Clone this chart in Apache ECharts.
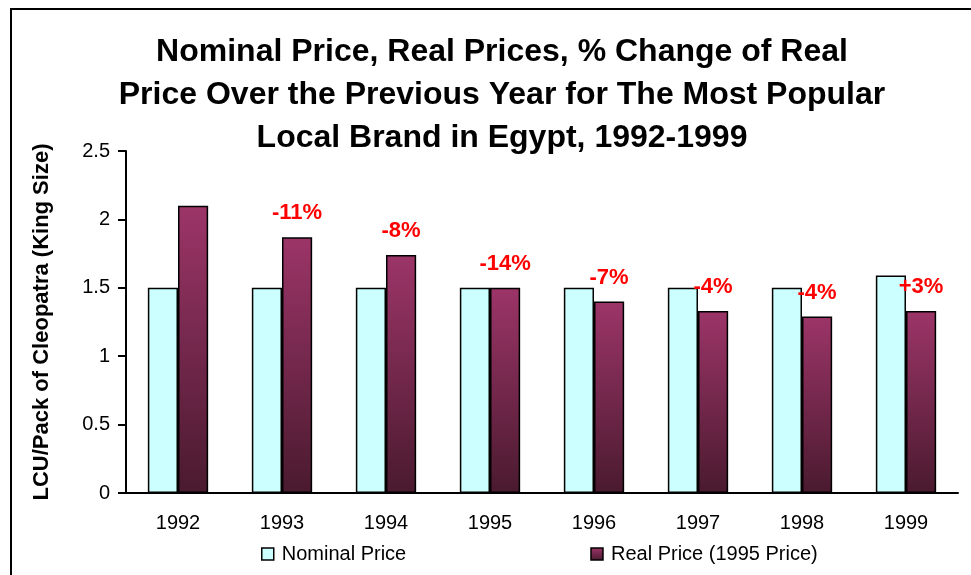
<!DOCTYPE html>
<html><head><meta charset="utf-8">
<script src="https://cdn.jsdelivr.net/npm/echarts@6/dist/echarts.min.js"></script>
<style>html,body{margin:0;padding:0;background:#fff}#c{width:971px;height:575px}</style>
</head><body><div id="c"></div>
<script>
const years = ['1992','1993','1994','1995','1996','1997','1998','1999'];
const nominalPrice = [1.5, 1.5, 1.5, 1.5, 1.5, 1.5, 1.5, 1.59];
const realPrice = [2.1, 1.87, 1.74, 1.5, 1.4, 1.33, 1.29, 1.33];
const pctChange = ['', '-11%', '-8%', '-14%', '-7%', '-4%', '-4%', '+3%'];
const titleLines = 'Nominal Price, Real Prices, % Change of Real\nPrice Over the Previous Year for The Most Popular\nLocal Brand in Egypt, 1992-1999';

const chart = echarts.init(document.getElementById('c'), null, {renderer:'canvas'});
const F = 'Liberation Sans, Arial, sans-serif';
chart.setOption({
  animation: false,
  textStyle: {fontFamily: F},
  graphic: [{type:'rect', shape:{x:11,y:9,width:1200,height:1200}, style:{fill:'none', stroke:'#000', lineWidth:2}, silent:true}],
  title: {text: titleLines, left: 497, textAlign:'center', top: 26,
    textStyle:{fontFamily:F, fontSize:32, fontWeight:'bold', color:'#000', lineHeight:43}},
  legend: {bottom: 6, left: 256, itemWidth: 12, itemHeight: 12, itemGap: 184, icon:'rect',
    textStyle:{fontFamily:F, fontSize:20, color:'#000', padding:[0,0,0,3]},
    itemStyle:{borderColor:'#000', borderWidth:1.5},
    data: ['Nominal Price','Real Price (1995 Price)']},
  grid: {left:126, right:13, top:151, bottom:82},
  xAxis: {type:'category', data: years,
    axisLine:{lineStyle:{color:'#000', width:2}},
    axisTick:{length:6, lineStyle:{color:'#000', width:2}},
    axisLabel:{color:'#000', fontSize:20, margin:20, fontFamily:F}},
  yAxis: {type:'value', min:0, max:2.5, interval:0.5,
    name:'LCU/Pack of Cleopatra (King Size)', nameLocation:'middle', nameGap:73, nameRotate:90,
    nameTextStyle:{fontFamily:F, fontSize:22, fontWeight:'bold', color:'#000'},
    axisLine:{show:true, lineStyle:{color:'#000', width:2}},
    axisTick:{show:true, length:8, lineStyle:{color:'#000', width:2}},
    splitLine:{show:false},
    axisLabel:{color:'#000', fontSize:20, margin:16, fontFamily:F}},
  series: [
    {name:'Nominal Price', type:'bar', data: nominalPrice, barGap:'0%', barCategoryGap:'42%',
      itemStyle:{color:'#ccffff', borderColor:'#000', borderWidth:1.5}},
    {name:'Real Price (1995 Price)', type:'bar', data: realPrice,
      itemStyle:{color: new echarts.graphic.LinearGradient(0,0,0,1,[{offset:0,color:'#9c3568'},{offset:1,color:'#4a1a2f'}], false),
        borderColor:'#000', borderWidth:1.5},
      label:{show:true, position:'top', distance:13, color:'#ff0000', fontSize:22, fontWeight:'bold', fontFamily:F,
        formatter: p => pctChange[p.dataIndex]}}
  ]
});
</script></body></html>
